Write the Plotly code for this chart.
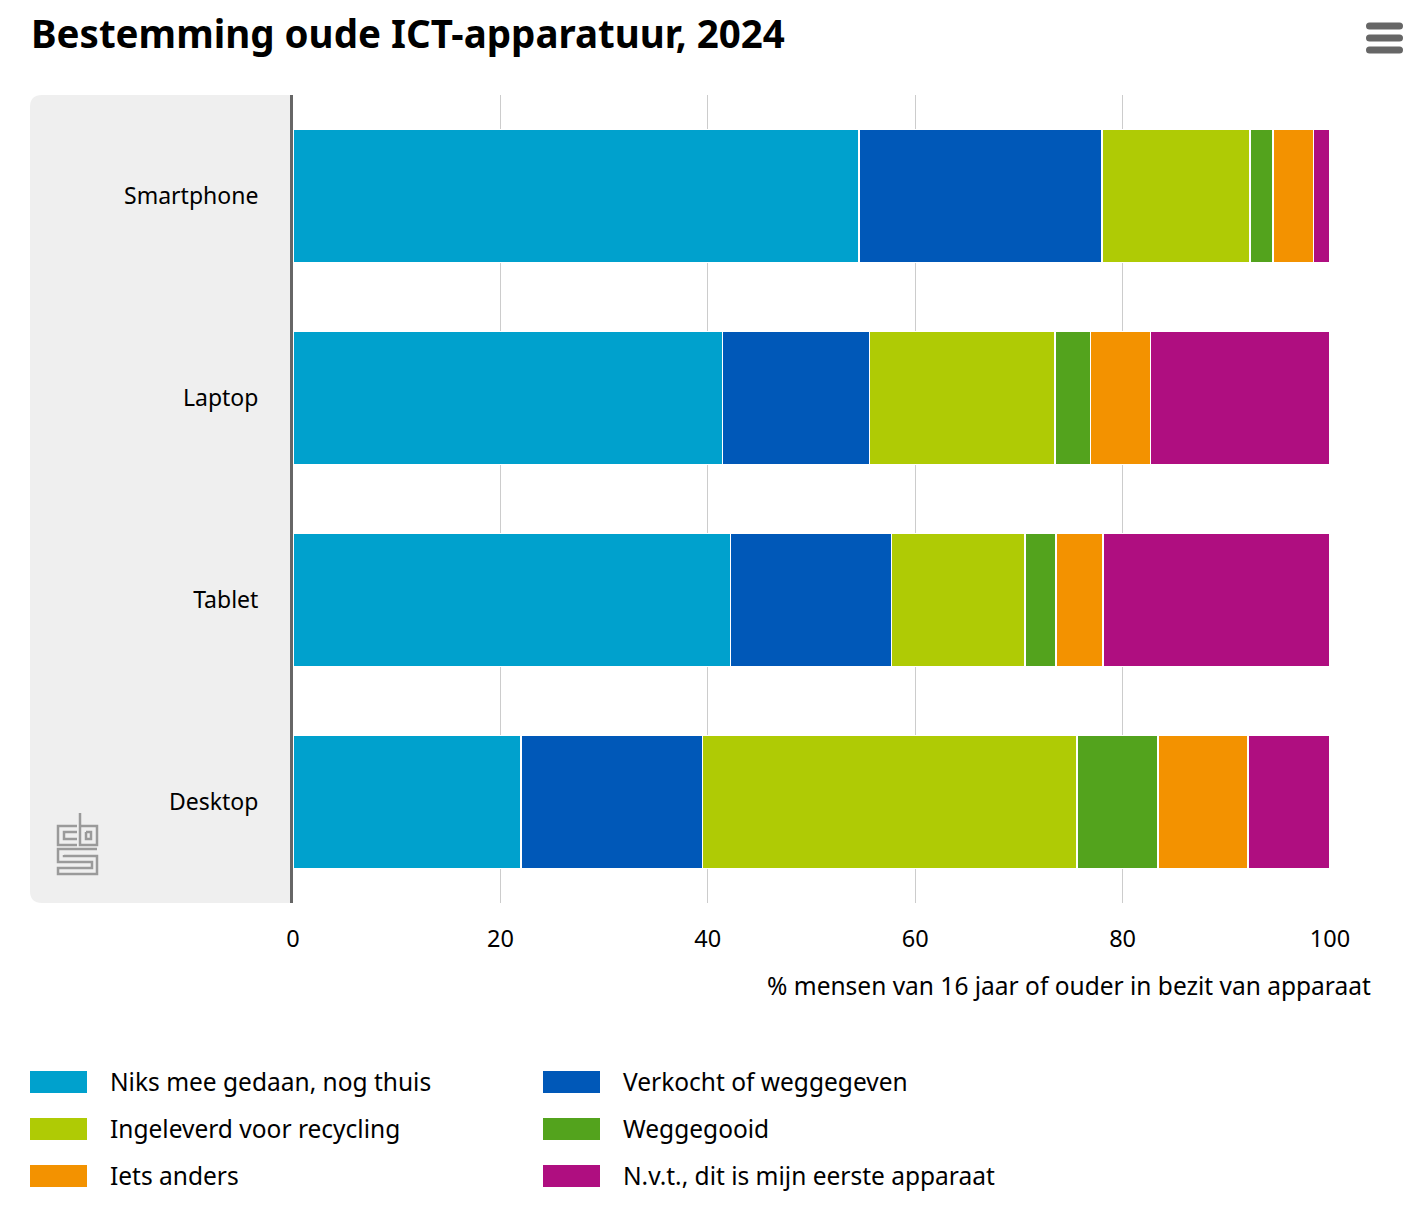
import plotly.graph_objects as go

categories = ["Smartphone", "Laptop", "Tablet", "Desktop"]

series_names = [
    "Niks mee gedaan, nog thuis",
    "Verkocht of weggegeven",
    "Ingeleverd voor recycling",
    "Weggegooid",
    "Iets anders",
    "N.v.t., dit is mijn eerste apparaat",
]
niks = [54.6, 41.4, 42.2, 22.0]
verkocht = [23.4, 14.2, 15.5, 17.5]
ingeleverd = [14.3, 17.9, 12.9, 36.1]
weggegooid = [2.2, 3.4, 3.0, 7.8]
iets_anders = [3.9, 5.8, 4.5, 8.7]
nvt = [1.6, 17.3, 21.9, 7.9]
series_values = [niks, verkocht, ingeleverd, weggegooid, iets_anders, nvt]
colors = ["#00A1CD", "#0058B8", "#AFCB05", "#53A31D", "#F39200", "#AF0E80"]
x_ticks = [0, 20, 40, 60, 80, 100]

OFF = 8  # page body margin
W, H = 1419 - OFF, 1213 - OFF
# plot area in reference (screen) pixels
L, R, T, B = 293, 1330, 95, 903
FONT = "Noto Sans"


def px(x):
    return (x - L) / (R - L)


def py(y):
    return (B - y) / (B - T)


fig = go.Figure()
for name, vals, col in zip(series_names, series_values, colors):
    fig.add_trace(go.Bar(
        y=categories, x=vals, name=name, orientation="h",
        marker=dict(color=col, line=dict(color="white", width=1.5)),
        showlegend=False,
    ))

shapes = []
# grey panel behind category labels
r = 12
x0, x1, y0, y1 = px(30), px(L), py(T), py(B)
rx = r / (R - L)
ry = r / (B - T)
shapes.append(dict(
    type="path", xref="paper", yref="paper", layer="below",
    path=(f"M {x1},{y0} L {x0+rx},{y0} Q {x0},{y0} {x0},{y0-ry} "
          f"L {x0},{y1+ry} Q {x0},{y1} {x0+rx},{y1} L {x1},{y1} Z"),
    fillcolor="#EFEFEF", line=dict(width=0),
))

# hamburger menu icon (pill shapes)
for yy in (26, 38, 50):
    a, b = 1366, 1403
    h = 3.5
    d = (f"M {px(a+h)},{py(yy-h)} L {px(b-h)},{py(yy-h)} "
         f"Q {px(b)},{py(yy-h)} {px(b)},{py(yy)} Q {px(b)},{py(yy+h)} {px(b-h)},{py(yy+h)} "
         f"L {px(a+h)},{py(yy+h)} Q {px(a)},{py(yy+h)} {px(a)},{py(yy)} "
         f"Q {px(a)},{py(yy-h)} {px(a+h)},{py(yy-h)} Z")
    shapes.append(dict(type="path", xref="paper", yref="paper", path=d,
                       fillcolor="#666666", line=dict(width=0)))

# cbs logo (approximation)
logo_paths = [
    [(77, 826), (58, 826), (58, 845), (77, 845)],
    [(77, 832), (64, 832), (64, 839), (77, 839)],
    [(80, 813), (80, 845), (97, 845), (97, 826), (80, 826)],
    [(86, 832), (91, 832), (91, 839), (86, 839), (86, 832)],
    [(97, 849), (58, 849), (58, 862), (92, 862), (92, 868), (58, 868), (58, 874), (97, 874), (97, 856), (64, 856), (64, 855)],
]
for pts in logo_paths:
    d = "M " + " L ".join(f"{px(a)},{py(b)}" for a, b in pts)
    shapes.append(dict(type="path", xref="paper", yref="paper", path=d,
                       line=dict(color="#9A9A9A", width=2.5)))

annotations = [
    dict(text="<b>Bestemming oude ICT-apparatuur, 2024</b>", xref="paper", yref="paper",
         x=px(29), y=py(33), xanchor="left", yanchor="middle", showarrow=False,
         font=dict(family=FONT, size=38.5, color="#000000")),
    dict(text="% mensen van 16 jaar of ouder in bezit van apparaat", xref="paper", yref="paper",
         x=px(1373), y=py(985), xanchor="right", yanchor="middle", showarrow=False,
         font=dict(family=FONT, size=24.5, color="#000000")),
]

# custom legend with wide swatches
col_x = [30, 543]
row_y = [1082, 1129, 1176]
for i, (name, col) in enumerate(zip(series_names, colors)):
    cx = col_x[i % 2]
    cy = row_y[i // 2]
    shapes.append(dict(type="rect", xref="paper", yref="paper",
                       x0=px(cx), x1=px(cx + 57), y0=py(cy - 11), y1=py(cy + 11),
                       fillcolor=col, line=dict(width=0)))
    annotations.append(dict(text=name, xref="paper", yref="paper",
                            x=px(cx + 78), y=py(cy - 1), xanchor="left", yanchor="middle",
                            showarrow=False,
                            font=dict(family=FONT, size=24.5, color="#000000")))

fig.update_layout(
    width=W, height=H,
    margin=dict(l=L - OFF, r=1419 - R, t=T - OFF, b=1213 - B, pad=0),
    paper_bgcolor="white", plot_bgcolor="white",
    barmode="stack", bargap=0.34,
    font=dict(family=FONT, color="#000000"),
    xaxis=dict(range=[0, 100], tickvals=x_ticks, ticktext=[str(v) for v in x_ticks],
               showgrid=True, gridcolor="#CCCCCC", gridwidth=1, zeroline=False,
               showline=False, ticks="", tickfont=dict(size=23.5, color="#000000"),
               ticklabelstandoff=19, fixedrange=True),
    yaxis=dict(categoryorder="array", categoryarray=categories, autorange="reversed",
               showgrid=False, zeroline=False, showline=True, linecolor="#666666",
               linewidth=3, ticks="", tickfont=dict(size=23, color="#000000"),
               ticklabelstandoff=27, fixedrange=True),
    shapes=shapes, annotations=annotations,
)

fig.write_html("out.html")
